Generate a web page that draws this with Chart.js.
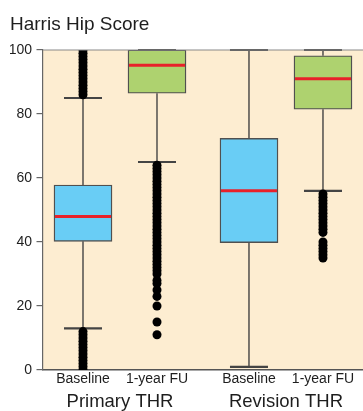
<!DOCTYPE html>
<html><head><meta charset="utf-8">
<script src="https://cdn.jsdelivr.net/npm/chart.js@4"></script>
<style>html,body{margin:0;padding:0;background:#fff;overflow:hidden}canvas{display:block}</style>
</head><body>
<canvas id="c" width="363" height="411"></canvas>
<script>
// ---- data ----
const groups = ["Primary THR", "Revision THR"];
const timepoints = ["Baseline", "1-year FU"];
const yTicks = [0, 20, 40, 60, 80, 100];

const baselineLow    = [13, 1];
const baselineQ1     = [40.2, 39.8];
const baselineMedian = [48, 56];
const baselineQ3     = [57.8, 72.4];
const baselineHigh   = [85, 100];

const followUpLow    = [65, 56];
const followUpQ1     = [86.5, 81.5];
const followUpMedian = [95.2, 91];
const followUpQ3     = [100, 98.2];
const followUpHigh   = [100, 100];

const primaryBaselineOutliers = [100, 99, 98, 97, 96, 95, 94, 93, 92, 91, 90, 89, 88, 87, 86,
  12, 11, 10, 9, 8, 7, 6, 5, 4, 3, 2, 1, 0];
const primaryFollowUpOutliers = [64, 63, 62, 61, 60, 59, 58, 57, 56, 55, 54, 53, 52, 51, 50,
  49, 48, 47, 46, 45, 44, 43, 42, 41, 40, 39, 38, 37, 36, 35, 34, 33, 32, 31, 30,
  28, 27, 25, 23, 20, 15, 11];
const revisionBaselineOutliers = [];
const revisionFollowUpOutliers = [55, 54, 53, 52, 51, 50, 49, 48, 47, 46, 45, 44, 43,
  40, 39, 38, 37, 36, 35];

// ---- layout helpers (not data) ----
const GROUP_SPACING = 2.243;
const X_MIN = 0.4595, X_MAX = 4.7838;
function slot(g, t) { return 1 + t + g * GROUP_SPACING; }
const slotTicks = [slot(0,0), slot(0,1), slot(1,0), slot(1,1)];
const groupTicks = [slot(0,0.5), slot(1,0.5)];

const FONT = "'Liberation Sans', Arial, Helvetica, sans-serif";
const BLUE = '#69CDF5', GREEN = '#AED26F', RED = '#E8212A';

const series = [
  {low: baselineLow, q1: baselineQ1, med: baselineMedian, q3: baselineQ3, high: baselineHigh, t: 0, color: BLUE},
  {low: followUpLow, q1: followUpQ1, med: followUpMedian, q3: followUpQ3, high: followUpHigh, t: 1, color: GREEN}
];
const outlierSets = [
  [primaryBaselineOutliers, 0, 0],
  [primaryFollowUpOutliers, 0, 1],
  [revisionBaselineOutliers, 1, 0],
  [revisionFollowUpOutliers, 1, 1]
];

const datasets = [];
outlierSets.forEach(([vals, g, t]) => {
  datasets.push({
    type: 'scatter', order: 1,
    data: vals.map(v => ({x: slot(g, t), y: v})),
    pointRadius: 4.5, pointBackgroundColor: '#000', pointBorderWidth: 0,
    showLine: false
  });
});
series.forEach(s => {
  datasets.push({
    type: 'bar', order: 2, grouped: false,
    label: timepoints[s.t],
    data: groups.map((_, g) => ({x: slot(g, s.t), y: [s.q1[g], s.q3[g]]})),
    backgroundColor: s.color, borderColor: '#505050', borderWidth: 1.4,
    borderSkipped: false, barThickness: 58
  });
});

const bgPlugin = {
  id: 'bg',
  beforeDraw(chart) {
    const {ctx, chartArea: a} = chart;
    ctx.save();
    ctx.fillStyle = '#FDEDD1';
    ctx.fillRect(a.left, a.top, a.right - a.left, a.bottom - a.top);
    ctx.restore();
  }
};

const boxPlugin = {
  id: 'boxes',
  beforeDatasetsDraw(chart) {
    const {ctx} = chart;
    const xs = chart.scales.x, ys = chart.scales.y;
    ctx.save();
    ctx.strokeStyle = '#444';
    series.forEach(s => {
      groups.forEach((_, g) => {
        const x = xs.getPixelForValue(slot(g, s.t));
        ctx.lineWidth = 1.4;
        ctx.beginPath();
        ctx.moveTo(x, ys.getPixelForValue(s.q3[g])); ctx.lineTo(x, ys.getPixelForValue(s.high[g]));
        ctx.moveTo(x, ys.getPixelForValue(s.q1[g])); ctx.lineTo(x, ys.getPixelForValue(s.low[g]));
        ctx.stroke();
        ctx.lineWidth = 2.2;
        ctx.beginPath();
        [s.high[g], s.low[g]].forEach(v => {
          const y = ys.getPixelForValue(v);
          ctx.moveTo(x - 19, y); ctx.lineTo(x + 19, y);
        });
        ctx.stroke();
      });
    });
    ctx.restore();
  },
  afterDatasetsDraw(chart) {
    const {ctx, chartArea: a} = chart;
    const xs = chart.scales.x, ys = chart.scales.y;
    ctx.save();
    ctx.strokeStyle = RED;
    ctx.lineWidth = 3;
    series.forEach(s => {
      groups.forEach((_, g) => {
        const x = xs.getPixelForValue(slot(g, s.t));
        const y = ys.getPixelForValue(s.med[g]);
        ctx.beginPath(); ctx.moveTo(x - 28, y); ctx.lineTo(x + 28, y); ctx.stroke();
      });
    });
    ctx.strokeStyle = '#8a8a8a';
    ctx.lineWidth = 1.2;
    ctx.beginPath(); ctx.moveTo(a.left, a.top); ctx.lineTo(a.right, a.top); ctx.stroke();
    ctx.restore();
  }
};

function noSidePadding(scale, h) {
  scale.height = h;
  scale.paddingLeft = 0;
  scale.paddingRight = 0;
}

new Chart(document.getElementById('c'), {
  type: 'bar',
  data: {datasets},
  options: {
    responsive: false, animation: false, events: [],
    layout: {autoPadding: false, padding: {left: 10, right: 0, top: 0, bottom: 0}},
    plugins: {
      legend: {display: false}, tooltip: {enabled: false},
      title: {
        display: true, text: 'Harris Hip Score', align: 'start', color: '#1e1e1e',
        font: {family: FONT, size: 19, weight: 'normal'}, padding: {top: 13, bottom: 14.2}
      }
    },
    scales: {
      x: {
        type: 'linear', min: X_MIN, max: X_MAX, offset: false,
        grid: {display: false, drawTicks: false, offset: false},
        border: {display: true, color: '#555', width: 1.4},
        afterBuildTicks(scale) { scale.ticks = slotTicks.map(v => ({value: v})); },
        afterFit(scale) { noSidePadding(scale, 16.6); },
        ticks: {
          autoSkip: false, maxRotation: 0, padding: 1, color: '#1e1e1e',
          font: {family: FONT, size: 14},
          callback: (v, i) => timepoints[i % 2]
        }
      },
      x2: {
        type: 'linear', position: 'bottom', axis: 'x', min: X_MIN, max: X_MAX, offset: false,
        grid: {display: false, drawTicks: false}, border: {display: false},
        afterBuildTicks(scale) { scale.ticks = groupTicks.map(v => ({value: v})); },
        afterFit(scale) { noSidePadding(scale, 24.4); },
        ticks: {
          autoSkip: false, maxRotation: 0, padding: 4, color: '#1e1e1e',
          font: {family: FONT, size: 18.5},
          callback: (v, i) => groups[i]
        }
      },
      y: {
        type: 'linear', min: 0, max: 100,
        grid: {display: true, drawOnChartArea: false, drawTicks: true, tickLength: 6.5, color: '#666', lineWidth: 1.2},
        border: {display: true, color: '#666', width: 1.2},
        afterBuildTicks(scale) { scale.ticks = yTicks.map(v => ({value: v})); },
        afterFit(scale) { scale.width = 33; scale.paddingTop = 0; scale.paddingBottom = 0; },
        ticks: {padding: 4.5, color: '#1e1e1e', font: {family: FONT, size: 14}}
      }
    }
  },
  plugins: [bgPlugin, boxPlugin]
});
</script>
</body></html>
